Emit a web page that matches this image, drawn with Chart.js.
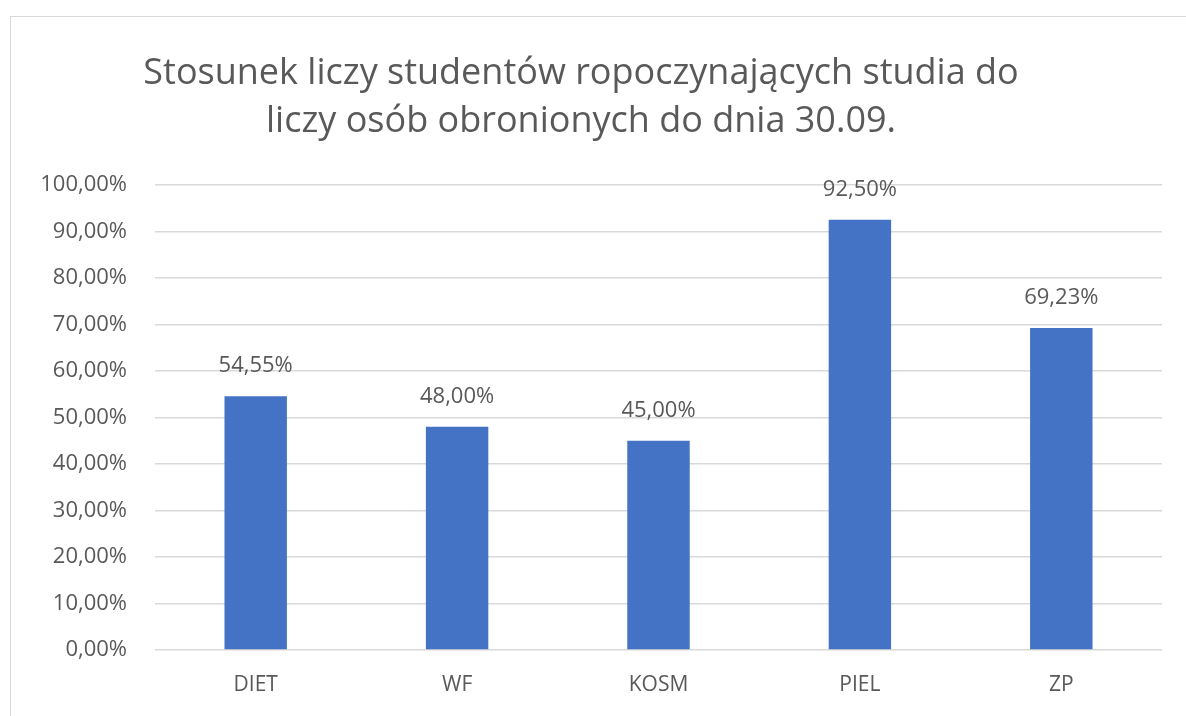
<!DOCTYPE html>
<html lang="pl">
<head>
  <meta charset="utf-8"/>
  <title>Stosunek liczy studentów</title>
  <script src="https://cdn.jsdelivr.net/npm/chart.js"></script>
  <style>
    html, body { margin: 0; padding: 0; background: #fff; overflow: hidden; }
    .frame {
      position: absolute; left: 10px; top: 16px;
      width: 1200px; height: 800px;
      border: 1px solid #d9d9d9; box-sizing: border-box;
    }
    .wrap { position: absolute; left: 0; top: 0; width: 1186px; height: 716px; }
  </style>
</head>
<body>
  <div class="frame"></div>
  <div class="wrap"><canvas id="chart"></canvas></div>

<script>
  // dane
  const categories = ['DIET', 'WF', 'KOSM', 'PIEL', 'ZP'];
  const values = [54.55, 48.00, 45.00, 92.50, 69.23];
  const titleLines = ['Stosunek liczy studentów ropoczynających studia do', 'liczy osób obronionych do dnia 30.09.'];

  const FONT = "'Open Sans', 'Noto Sans', sans-serif";
  const fmt = v => v.toFixed(2).replace('.', ',') + '%';

  // etykiety nad słupkami
  const barLabels = {
    id: 'barLabels',
    afterDatasetsDraw(chart) {
      const ctx = chart.ctx;
      const meta = chart.getDatasetMeta(0);
      ctx.save();
      ctx.font = '22px ' + FONT;
      ctx.fillStyle = '#595959';
      ctx.textAlign = 'center';
      ctx.textBaseline = 'middle';
      meta.data.forEach((bar, i) => {
        ctx.fillText(fmt(values[i]), bar.x, bar.y - 30);
      });
      ctx.restore();
    }
  };

  new Chart(document.getElementById('chart'), {
    type: 'bar',
    data: {
      labels: categories,
      datasets: [{
        data: values,
        backgroundColor: '#4472C4',
        barPercentage: 1,
        categoryPercentage: 0.31
      }]
    },
    options: {
      responsive: true,
      maintainAspectRatio: false,
      animation: false,
      layout: { padding: { left: 0, right: 24, top: 0, bottom: 0 } },
      plugins: {
        legend: { display: false },
        tooltip: { enabled: false },
        title: {
          display: true,
          text: titleLines,
          color: '#595959',
          font: { family: FONT, size: 36, weight: 'normal', lineHeight: 1.33 },
          padding: { top: 50, bottom: 39 }
        }
      },
      scales: {
        x: {
          afterFit(scale) { scale.height = 66; },
          grid: { display: false },
          border: { display: false },
          ticks: { color: '#595959', font: { family: FONT, size: 21 }, padding: 14 }
        },
        y: {
          min: 0,
          max: 100,
          afterFit(scale) { scale.width = 155; },
          grid: { color: '#d9d9d9', lineWidth: 1.5, drawTicks: false },
          border: { display: false },
          ticks: {
            stepSize: 10,
            color: '#595959',
            padding: 28,
            font: { family: FONT, size: 22 },
            callback: v => fmt(v)
          }
        }
      }
    },
    plugins: [barLabels]
  });
</script>
</body>
</html>
